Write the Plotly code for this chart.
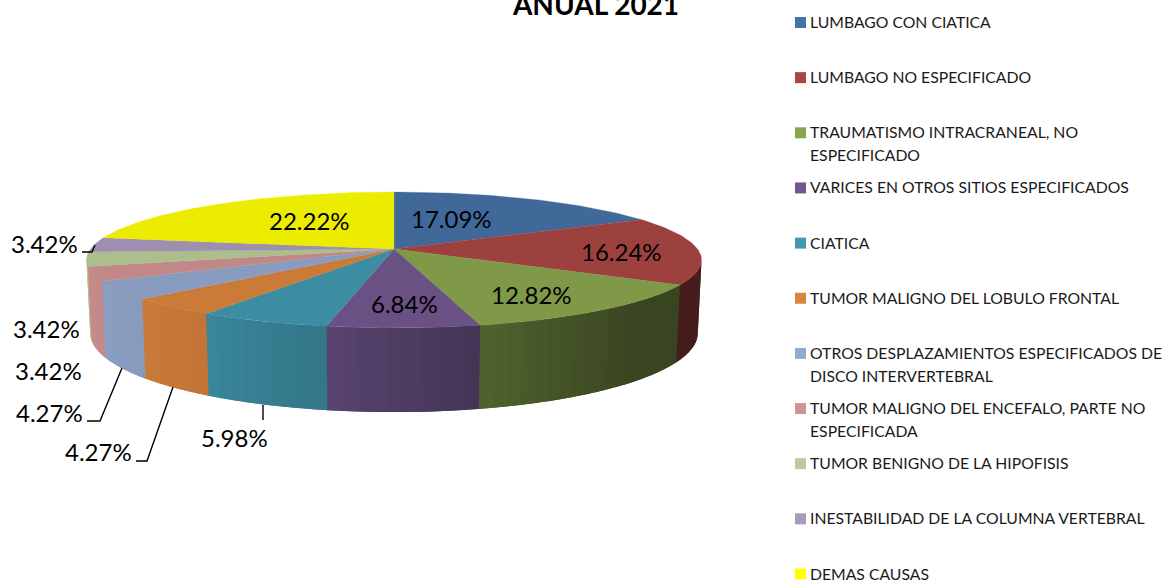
import numpy as np
import plotly.graph_objects as go

# ---- data ----
categories = [
    "LUMBAGO CON CIATICA", "LUMBAGO NO ESPECIFICADO",
    "TRAUMATISMO INTRACRANEAL, NO ESPECIFICADO",
    "VARICES EN OTROS SITIOS ESPECIFICADOS", "CIATICA",
    "TUMOR MALIGNO DEL LOBULO FRONTAL",
    "OTROS DESPLAZAMIENTOS ESPECIFICADOS DE DISCO INTERVERTEBRAL",
    "TUMOR MALIGNO DEL ENCEFALO, PARTE NO ESPECIFICADA",
    "TUMOR BENIGNO DE LA HIPOFISIS",
    "INESTABILIDAD DE LA COLUMNA VERTEBRAL", "DEMAS CAUSAS",
]
values = [17.09, 16.24, 12.82, 6.84, 5.98, 4.27, 4.27, 3.42, 3.42, 3.42, 22.22]
legend_lines = [
    ["LUMBAGO CON CIATICA"], ["LUMBAGO NO ESPECIFICADO"],
    ["TRAUMATISMO INTRACRANEAL, NO", "ESPECIFICADO"],
    ["VARICES EN OTROS SITIOS ESPECIFICADOS"], ["CIATICA"],
    ["TUMOR MALIGNO DEL LOBULO FRONTAL"],
    ["OTROS DESPLAZAMIENTOS ESPECIFICADOS DE", "DISCO INTERVERTEBRAL"],
    ["TUMOR MALIGNO DEL ENCEFALO, PARTE NO", "ESPECIFICADA"],
    ["TUMOR BENIGNO DE LA HIPOFISIS"],
    ["INESTABILIDAD DE LA COLUMNA VERTEBRAL"], ["DEMAS CAUSAS"],
]
title_text = "ANUAL 2021"

# ---- styles ----
colors = ["#4572A7", "#AA4643", "#89A54E", "#71588F", "#4198AF", "#DB843D",
          "#93A9CF", "#D19392", "#B9CD96", "#A99BBD", "#FFFF00"]
FONT = "Lato"
LABEL_SIZE = 24
LEGEND_SIZE = 15.75
label_pos = [(451, 218), (621, 251), (531, 294), (404, 303), (234, 437), (98, 451),
             (49, 412), (48, 370), (46, 328), (44, 243), (309, 220)]
leaders = [
    [(263, 405), (263, 420)],
    [(173, 387), (147, 461), (136, 461)],
    [(122, 368), (100, 421), (87, 421)],
    [(95, 245), (92, 252), (82, 252)],
]

# ---- projection of the 3D pie (perspective view) ----
CX, CY = 394.0, 249.0
R, S, D, K, M = 303.5, 66.2, 72.5, 0.1618, 0.012
WALL_FROM, WALL_TO = 1.72, 4.58  # part of the rim that faces the viewer, radians


def project(theta, z=0.0):
    X, Y = np.sin(theta), np.cos(theta)
    w = 1 + K * Y + M * z
    return CX + R * X / w, CY + (-S * Y + D * z) / w


def hex_scale(c, f):
    r, g, b = int(c[1:3], 16), int(c[3:5], 16), int(c[5:7], 16)
    return "#%02x%02x%02x" % (round(r * f), round(g * f), round(b * f))


def wall_light(theta):
    return np.interp(np.sin(theta), [-1, -0.6, -0.2, 0.28, 0.7, 1],
                     [0.95, 0.9, 0.78, 0.58, 0.42, 0.41])


shares = np.array(values) / sum(values)
edges = np.concatenate([[0], np.cumsum(shares)]) * 2 * np.pi

fig = go.Figure()

# side walls; each strip runs on under the next one so that no seams show
STEP = np.radians(2.5)
for i, c in enumerate(colors):
    a0, a1 = max(edges[i], WALL_FROM), min(edges[i + 1], WALL_TO)
    if a1 <= a0:
        continue
    n = max(1, int(np.ceil((a1 - a0) / STEP)))
    bounds = np.linspace(a0, a1, n + 1)
    for t0, t1 in zip(bounds[:-1], bounds[1:]):
        tt = np.linspace(t0, min(t1 + STEP, WALL_TO), 4)
        x0, y0 = project(tt)
        x1, y1 = project(tt[::-1], 1.0)
        col = hex_scale(c, float(wall_light((t0 + t1) / 2)))
        fig.add_trace(go.Scatter(
            x=list(x0) + list(x1), y=list(y0) + list(y1), mode="lines",
            fill="toself", fillcolor=col, line=dict(color=col, width=0),
            hoverinfo="skip", showlegend=False))

# top faces
for i, c in enumerate(colors):
    tt = np.linspace(edges[i], edges[i + 1], max(3, int(np.degrees(edges[i + 1] - edges[i])) + 2))
    x, y = project(tt)
    col = hex_scale(c, 0.925)
    fig.add_trace(go.Scatter(
        x=[CX] + list(x) + [CX], y=[CY] + list(y) + [CY], mode="lines",
        fill="toself", fillcolor=col, line=dict(color=col, width=0.3),
        name=categories[i], hoverinfo="name", showlegend=False))

# leader lines
for pts in leaders:
    fig.add_trace(go.Scatter(
        x=[p[0] for p in pts], y=[p[1] for p in pts], mode="lines",
        line=dict(color="#000000", width=1.4), hoverinfo="skip", showlegend=False))

# legend swatches and text
LEG_Y0, LEG_DY, LINE_DY = 22.5, 55.15, 23
fig.add_trace(go.Scatter(
    x=[800.5] * len(colors), y=[LEG_Y0 + LEG_DY * i for i in range(len(colors))],
    mode="markers", marker=dict(symbol="square", size=11, color=colors, line=dict(width=0)),
    hoverinfo="skip", showlegend=False))

annotations = []
for i, lines in enumerate(legend_lines):
    for j, txt in enumerate(lines):
        annotations.append(dict(
            x=808, y=LEG_Y0 - 1 + LEG_DY * i + LINE_DY * j, text=txt, showarrow=False,
            xanchor="left", yanchor="middle", xref="x", yref="y",
            font=dict(family=FONT, size=LEGEND_SIZE, color="#1a1a1a")))

for (x, y), v in zip(label_pos, values):
    annotations.append(dict(
        x=x, y=y, text=f"{v:.2f}%", showarrow=False, xanchor="center", yanchor="middle",
        xref="x", yref="y", font=dict(family=FONT, size=LABEL_SIZE, color="#000000")))

fig.update_layout(
    width=1163, height=581, margin=dict(l=0, r=0, t=0, b=0),
    paper_bgcolor="white", plot_bgcolor="white", showlegend=False,
    title=dict(text=f"<b>{title_text}</b>", x=596 / 1163, y=1 - 5 / 581,
               xanchor="center", yanchor="middle", xref="paper", yref="paper",
               font=dict(family=FONT, size=28, color="#000000")),
    xaxis=dict(range=[0, 1163], visible=False, fixedrange=True),
    yaxis=dict(range=[581, 0], visible=False, fixedrange=True),
    annotations=annotations,
)
fig.write_html("out.html", config={"displayModeBar": False},
               post_script="document.body.style.margin='0';")
